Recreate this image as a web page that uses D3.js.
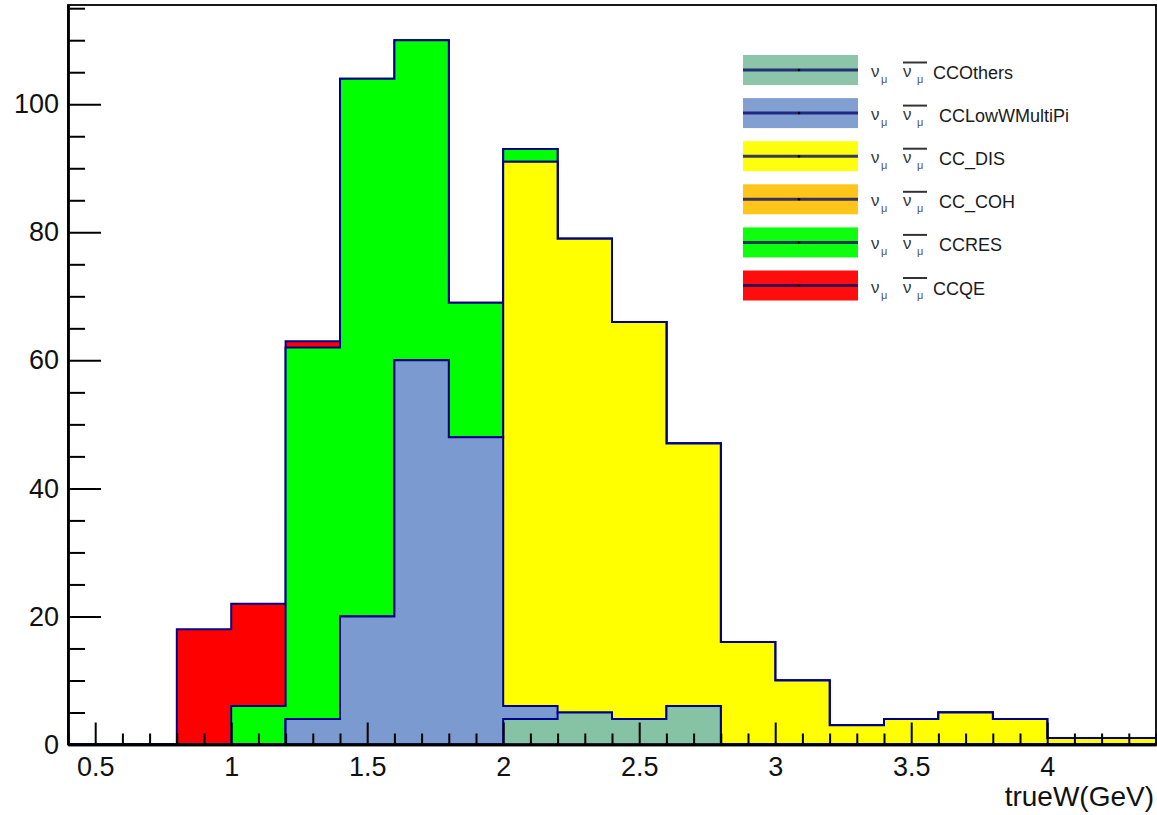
<!DOCTYPE html>
<html><head><meta charset="utf-8">
<script src="https://cdn.jsdelivr.net/npm/d3@7"></script>
<style>body{margin:0;background:#fff}svg{display:block}</style>
</head><body>
<svg id="c" width="1157" height="815"></svg>
<script>
// ---- data ----
const binLow = [0.4,0.6,0.8,1.0,1.2,1.4,1.6,1.8,2.0,2.2,2.4,2.6,2.8,3.0,3.2,3.4,3.6,3.8,4.0,4.2];
const binWidth = 0.2;
const ccOthers     = [0,0,0,0,0,0,0,0,4,5,4,6,0,0,0,0,0,0,0,0];
const ccLowWMultiPi= [0,0,0,0,4,20,60,48,2,0,0,0,0,0,0,0,0,0,0,0];
const ccDIS        = [0,0,0,0,0,0,0,0,85,74,62,41,16,10,3,4,5,4,1,1];
const ccCOH        = [0,0,0,0,0,0,0,0,0,0,0,0,0,0,0,0,0,0,0,0];
const ccRES        = [0,0,0,6,58,84,50,21,2,0,0,0,0,0,0,0,0,0,0,0];
const ccQE         = [0,0,18,16,1,0,0,0,0,0,0,0,0,0,0,0,0,0,0,0];
const seriesNames  = ["CCOthers","CCLowWMultiPi","CC_DIS","CC_COH","CCRES","CCQE"];
const seriesColors = ["#86c2a4","#7b9ad0","#ffff00","#ffc20e","#00ff00","#ff0000"];
const legendLabels = ["CCOthers"," CCLowWMultiPi"," CC_DIS"," CC_COH"," CCRES","CCQE"];
const xMajor = [0.5,1,1.5,2,2.5,3,3.5,4];
const yMajor = [0,20,40,60,80,100];
const xTitle = "trueW(GeV)";

const series = [ccOthers, ccLowWMultiPi, ccDIS, ccCOH, ccRES, ccQE];

// ---- layout ----
const L = 68, R = 1156, T = 5, B = 744.5;
const svg = d3.select("#c");
const x = d3.scaleLinear().domain([0.4, 4.4]).range([L, R]);
const y = d3.scaleLinear().domain([0, 115.5]).range([B, T]);
const outline = "#00008f";
const font = "'Liberation Sans', Arial, Helvetica, sans-serif";

// cumulative stacks
const cum = [];
series.forEach((s, i) => {
  cum.push(s.map((v, j) => v + (i > 0 ? cum[i-1][j] : 0)));
});

const g = svg.append("g");
g.append("clipPath").attr("id","clip").append("rect")
  .attr("x", L).attr("y", T).attr("width", R-L).attr("height", B-T);
const plot = g.append("g").attr("clip-path","url(#clip)");

function stepPath(vals) {
  const p = d3.path();
  p.moveTo(x(binLow[0]), y(0));
  vals.forEach((v, j) => {
    p.lineTo(x(binLow[j]), y(v));
    p.lineTo(x(binLow[j] + binWidth), y(v));
  });
  p.lineTo(x(binLow[binLow.length-1] + binWidth), y(0));
  p.closePath();
  return p.toString();
}

for (let i = series.length - 1; i >= 0; i--) {
  plot.append("path")
    .attr("d", stepPath(cum[i]))
    .attr("fill", seriesColors[i])
    .attr("stroke", outline)
    .attr("stroke-width", 2)
    .attr("stroke-linejoin", "miter");
}

// ---- frame ----
svg.append("rect").attr("x", L).attr("y", T).attr("width", R-L).attr("height", B-T)
  .attr("fill","none").attr("stroke","#000").attr("stroke-width",1.8);

// ---- axes ----
svg.append("g").attr("transform",`translate(${L},0)`)
  .call(d3.axisLeft(y).tickValues(yMajor).tickSize(-33).tickSizeOuter(0).tickPadding(9));
const yMinorVals = d3.range(0, 116, 5).filter(v => v % 20 !== 0);
svg.append("g").attr("transform",`translate(${L},0)`)
  .call(d3.axisLeft(y).tickValues(yMinorVals).tickSize(-17).tickSizeOuter(0).tickFormat(""));

svg.append("g").attr("transform",`translate(0,${B})`)
  .call(d3.axisBottom(x).tickValues(xMajor).tickSize(-22).tickSizeOuter(0).tickPadding(12)
        .tickFormat(d => d3.format("")(d)));
const xMinorVals = d3.range(4, 45, 1).map(v => v/10).filter(v => Math.abs(v*2 - Math.round(v*2)) > 1e-6);
svg.append("g").attr("transform",`translate(0,${B})`)
  .call(d3.axisBottom(x).tickValues(xMinorVals).tickSize(-11).tickSizeOuter(0).tickFormat(""));

svg.selectAll(".tick line").attr("stroke","#000").attr("stroke-width",2);
svg.selectAll(".domain").attr("stroke","#000").attr("stroke-width",2.4);
svg.selectAll(".tick text").attr("font-family", font).attr("font-size", 27).attr("fill","#111");

svg.append("text").attr("x", 1154).attr("y", 806).attr("text-anchor","end")
  .attr("font-family", font).attr("font-size", 28).attr("fill","#111").text(xTitle);

// ---- legend (top to bottom: CCOthers ... CCQE) ----
const leg = svg.append("g");
const rowY0 = 70, rowDy = 43.1;
seriesNames.forEach((name, i) => {
  const cy = rowY0 + i * rowDy;
  const r = leg.append("g");
  r.append("rect").attr("x", 743).attr("y", cy - 15).attr("width", 115).attr("height", 30)
    .attr("fill", seriesColors[i]).attr("opacity", 0.95);
  r.append("line").attr("x1", 743).attr("x2", 858).attr("y1", cy).attr("y2", cy)
    .attr("stroke", "#0a0a6a").attr("stroke-opacity", 0.8).attr("stroke-width", 3);
  r.append("circle").attr("cx", 799).attr("cy", cy).attr("r", 1.3).attr("fill", "#000");
  // nu_mu
  r.append("text").attr("x", 871).attr("y", cy + 7).attr("font-family", font)
    .attr("font-size", 17).attr("fill","#333").text("ν");
  r.append("text").attr("x", 881).attr("y", cy + 13).attr("font-family", font)
    .attr("font-size", 11).attr("fill","#555").text("μ");
  // anti nu_mu
  r.append("text").attr("x", 903).attr("y", cy + 7).attr("font-family", font)
    .attr("font-size", 17).attr("fill","#333").text("ν");
  r.append("text").attr("x", 917).attr("y", cy + 13).attr("font-family", font)
    .attr("font-size", 11).attr("fill","#555").text("μ");
  r.append("line").attr("x1", 903).attr("x2", 927).attr("y1", cy - 7.5).attr("y2", cy - 7.5)
    .attr("stroke", "#333").attr("stroke-width", 2);
  const lbl = legendLabels[i];
  r.append("text").attr("x", lbl.startsWith(" ") ? 939 : 933).attr("y", cy + 9)
    .attr("font-family", font).attr("font-size", 18).attr("fill","#1a1a1a").text(lbl.trim());
});
</script>
</body></html>
